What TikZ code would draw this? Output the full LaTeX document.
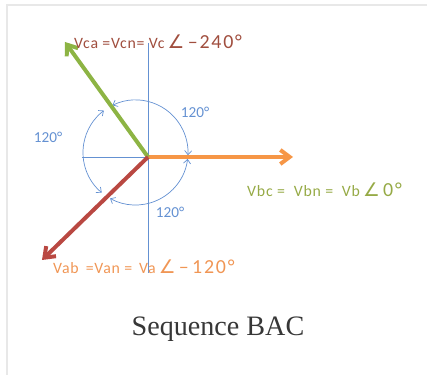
\documentclass[tikz,border=0pt]{standalone}
\usepackage{fontspec}
\setmainfont{Carlito}
\newfontfamily\capfont{Liberation Serif}
\newfontfamily\angfont{DejaVu Sans}
\newfontfamily\lblfont[LetterSpace=5]{Carlito}
\newfontfamily\numfont[LetterSpace=9]{Carlito}
\usepackage{xcolor}
\usetikzlibrary{arrows.meta}
\definecolor{vgreen}{RGB}{141,180,68}
\definecolor{vorange}{RGB}{246,150,70}
\definecolor{vred}{RGB}{185,72,66}
\definecolor{axblue}{RGB}{100,145,210}
\definecolor{lbred}{RGB}{160,78,62}
\definecolor{lborange}{RGB}{240,150,85}
\definecolor{lbgreen}{RGB}{150,170,70}
\definecolor{framegray}{RGB}{232,232,232}
\definecolor{capgray}{RGB}{55,55,55}
\newcommand{\phang}[1]{{\angfont\fontsize{16}{18}\selectfont\,∠}{\numfont\fontsize{17}{19}\selectfont\,#1°}}
\begin{document}
\begin{tikzpicture}[x=0.03cm,y=0.03cm,
  vec/.style={line width=3.4pt,-{Straight Barb[length=8pt,width=12pt]}},
  axis/.style={draw=axblue,line width=0.6pt},
  amark/.style={axblue,line width=0.6pt,{Straight Barb[length=3.5pt,width=6pt]}-{Straight Barb[length=3.5pt,width=6pt]}},
  deg/.style={text=axblue,font=\fontsize{13}{15}\selectfont},
  vlabel/.style={anchor=west,inner sep=0pt,font=\lblfont\fontsize{13.5}{15}\selectfont}]
\useasboundingbox (-148,-218) rectangle (279,157);
\draw[framegray,line width=1.5pt] (-141,-218)--(-141,152)--(279,152);
\coordinate (O) at (0,0);
\coordinate (C) at (-12.5,4.5);
\coordinate (Vtop) at (0,114);
\coordinate (Vbot) at (0,-116);
\coordinate (Hl) at (-66,0);
\coordinate (Vb) at (145,0);
\coordinate (Vc) at (-83,115);
\coordinate (Va) at (-106,-103);
\draw[axis] (Vtop)--(Vbot) (Hl)--(O);
\draw[amark] ([shift={(116:1.575cm)}]C) arc[start angle=116,end angle=-3,radius=1.575cm];
\draw[amark] ([shift={(-7:1.575cm)}]C) arc[start angle=-7,end angle=-119,radius=1.575cm];
\draw[amark] ([shift={(230:1.575cm)}]C) arc[start angle=230,end angle=127,radius=1.575cm];
\draw[vec,vorange] (O)--(Vb);
\draw[vec,vgreen] (O)--(Vc);
\draw[vec,vred] (O)--(Va);
\node[vlabel,text=lbred] (lc) at (-74,115) {Vca =Vcn= Vc\phang{–240}};
\node[vlabel,text=lborange] (la) at (-95,-110) {Vab \,=Van = \,Va\phang{–\,120}};
\node[vlabel,text=lbgreen] (lb) at (99,-33) {Vbc = \ Vbn = \ Vb\phang{0}};
\node[deg] (d1) at (47,45) {120°};
\node[deg] (d2) at (-100,20) {120°};
\node[deg] (d3) at (22,-55) {120°};
\node[font=\capfont\fontsize{24}{28}\selectfont,text=capgray] (cap) at (70,-172) {Sequence BAC};
\end{tikzpicture}
\end{document}
